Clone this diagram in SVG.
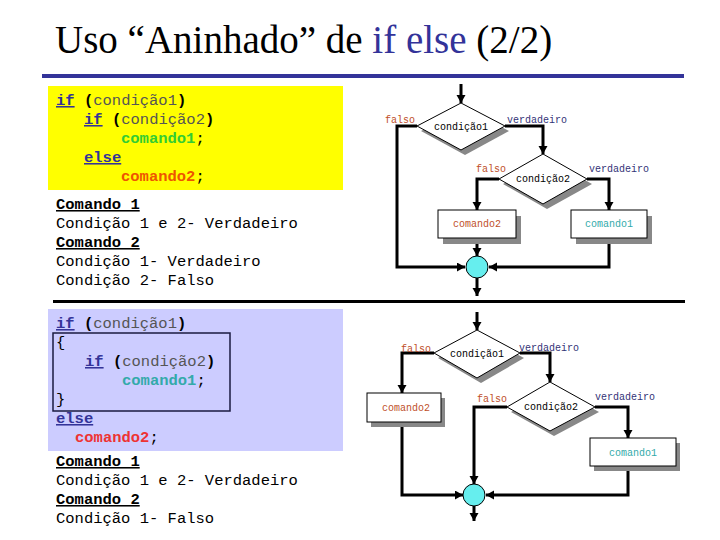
<svg xmlns="http://www.w3.org/2000/svg" width="720" height="540" viewBox="0 0 720 540">
<defs>
<marker id="ah" markerUnits="userSpaceOnUse" markerWidth="10" markerHeight="10" refX="8" refY="4.5" orient="auto">
<path d="M0,0 L8,4.5 L0,9 Z" fill="#000"/>
</marker>
<style>
.title{font-family:"Liberation Serif","Times New Roman",serif;font-size:39px;fill:#000}
.code{font-family:"Liberation Mono","Courier New",monospace;font-size:15.5px;fill:#000}
.kw{fill:#333399;font-weight:bold;text-decoration:underline}
.par{font-weight:bold}
.cond{fill:#555}
.hd{font-weight:bold;text-decoration:underline}
.fc{font-family:"Liberation Mono","Courier New",monospace;font-size:10px}
.fl{fill:#c0502a}
.vd{fill:#333377}
.c1{fill:#33aaaa}
.c2{fill:#c0502a}
.edge{fill:none;stroke:#000;stroke-width:3;marker-end:url(#ah)}
.dia{fill:#fff;stroke:#000;stroke-width:1}
.box{fill:#fff;stroke:#000;stroke-width:1}
.sh{fill:#888}
.jn{fill:#66eeee;stroke:#000;stroke-width:1}
</style>
</defs>
<rect width="720" height="540" fill="#fff"/>
<text class="title" x="55" y="53">Uso “Aninhado” de <tspan fill="#333399">if else</tspan> (2/2)</text>
<rect x="42" y="74" width="642" height="4" fill="#333399"/>
<rect x="53" y="300" width="632" height="3" fill="#000"/>

<g id="code1">
<rect x="48" y="86" width="295" height="104" fill="#ffff00"/>
<text class="code" x="56" y="105"><tspan class="kw">if</tspan> <tspan class="par">(</tspan><tspan class="cond">condição1</tspan><tspan class="par">)</tspan></text>
<text class="code" x="84" y="124"><tspan class="kw">if</tspan> <tspan class="par">(</tspan><tspan class="cond">condição2</tspan><tspan class="par">)</tspan></text>
<text class="code" x="121" y="143"><tspan fill="#33cc33" font-weight="bold">comando1</tspan>;</text>
<text class="code" x="84" y="162"><tspan class="kw">else</tspan></text>
<text class="code" x="121" y="181"><tspan fill="#ee5500" font-weight="bold">comando2</tspan>;</text>
<text class="code hd" x="56" y="209">Comando 1</text>
<text class="code" x="56" y="228">Condição 1 e 2- Verdadeiro</text>
<text class="code hd" x="56" y="247">Comando 2</text>
<text class="code" x="56" y="266">Condição 1- Verdadeiro</text>
<text class="code" x="56" y="285">Condição 2- Falso</text>
</g>

<g id="code2">
<rect x="48" y="309" width="295" height="142" fill="#ccccff"/>
<rect x="53" y="333" width="177" height="78" fill="none" stroke="#1a1a40" stroke-width="1.5"/>
<text class="code" x="56" y="328"><tspan class="kw">if</tspan> <tspan class="par">(</tspan><tspan class="cond">condição1</tspan><tspan class="par">)</tspan></text>
<text class="code" x="56" y="347" fill="#ee3333">{</text>
<text class="code" x="85" y="366"><tspan class="kw">if</tspan> <tspan class="par">(</tspan><tspan class="cond">condição2</tspan><tspan class="par">)</tspan></text>
<text class="code" x="122" y="385"><tspan fill="#33aaaa" font-weight="bold">comando1</tspan>;</text>
<text class="code" x="56" y="404" fill="#ee3333">}</text>
<text class="code" x="56" y="423"><tspan class="kw">else</tspan></text>
<text class="code" x="75" y="442"><tspan fill="#ee3333" font-weight="bold">comando2</tspan>;</text>
<text class="code hd" x="56" y="466">Comando 1</text>
<text class="code" x="56" y="485">Condição 1 e 2- Verdadeiro</text>
<text class="code hd" x="56" y="504">Comando 2</text>
<text class="code" x="56" y="523">Condição 1- Falso</text>
</g>

<!-- top flowchart -->
<g id="edges1">
<path class="edge" d="M461,84 V103"/>
<path class="edge" d="M417,126 H397 V267 H465"/>
<path class="edge" d="M505,126 H543 V154"/>
<path class="edge" d="M499,179 H477 V210"/>
<path class="edge" d="M587,179 H609 V210"/>
<path class="edge" d="M477,238 V256"/>
<path class="edge" d="M609,238 V267 H489"/>
<path class="edge" d="M477,278 V296"/>
</g>
<g id="t_cond1">
<polygon class="sh" points="465,108 509,131 465,155 421,131"/>
<polygon class="dia" points="461,103 505,126 461,150 417,126"/>
<text class="fc" x="461" y="130" text-anchor="middle">condição1</text>
<text class="fc fl" x="385" y="123">falso</text>
<text class="fc vd" x="507" y="123">verdadeiro</text>
</g>
<g id="t_cond2">
<polygon class="sh" points="547,159 592,184 547,209 503,184"/>
<polygon class="dia" points="543,154 587,179 543,204 499,179"/>
<text class="fc" x="543" y="182" text-anchor="middle">condição2</text>
<text class="fc fl" x="476" y="172">falso</text>
<text class="fc vd" x="589" y="172">verdadeiro</text>
</g>
<g id="t_cmd2">
<rect class="sh" x="443" y="216" width="78" height="28"/>
<rect class="box" x="438" y="210" width="78" height="28"/>
<text class="fc c2" x="477" y="227" text-anchor="middle">comando2</text>
</g>
<g id="t_cmd1">
<rect class="sh" x="576" y="216" width="76" height="28"/>
<rect class="box" x="571" y="210" width="76" height="28"/>
<text class="fc c1" x="609" y="227" text-anchor="middle">comando1</text>
</g>
<g id="t_join">
<circle class="jn" cx="477" cy="267" r="11"/>
</g>

<!-- bottom flowchart -->
<g id="edges2">
<path class="edge" d="M477,312 V330"/>
<path class="edge" d="M434,353 H402 V393"/>
<path class="edge" d="M520,353 H550 V382"/>
<path class="edge" d="M507,407 H474 V484"/>
<path class="edge" d="M595,407 H628 V438"/>
<path class="edge" d="M628,466 V495 H486"/>
<path class="edge" d="M402,422 V495 H463"/>
<path class="edge" d="M474,506 V521"/>
</g>
<g id="b_cond1">
<polygon class="sh" points="481,335 524,358 481,383 438,358"/>
<polygon class="dia" points="477,330 520,353 477,378 434,353"/>
<text class="fc" x="477" y="357" text-anchor="middle">condição1</text>
<text class="fc fl" x="401" y="352">falso</text>
<text class="fc vd" x="519" y="351">verdadeiro</text>
</g>
<g id="b_cond2">
<polygon class="sh" points="554,387 599,412 554,436 511,412"/>
<polygon class="dia" points="550,382 595,407 550,431 507,407"/>
<text class="fc" x="551" y="410" text-anchor="middle">condição2</text>
<text class="fc fl" x="477" y="402">falso</text>
<text class="fc vd" x="595" y="400">verdadeiro</text>
</g>
<g id="b_cmd2">
<rect class="sh" x="371" y="398" width="74" height="29"/>
<rect class="box" x="367" y="393" width="74" height="29"/>
<text class="fc c2" x="406" y="411" text-anchor="middle">comando2</text>
</g>
<g id="b_cmd1">
<rect class="sh" x="594" y="443" width="86" height="28"/>
<rect class="box" x="590" y="438" width="86" height="28"/>
<text class="fc c1" x="633" y="456" text-anchor="middle">comando1</text>
</g>
<g id="b_join">
<circle class="jn" cx="474" cy="495" r="11"/>
</g>
</svg>
